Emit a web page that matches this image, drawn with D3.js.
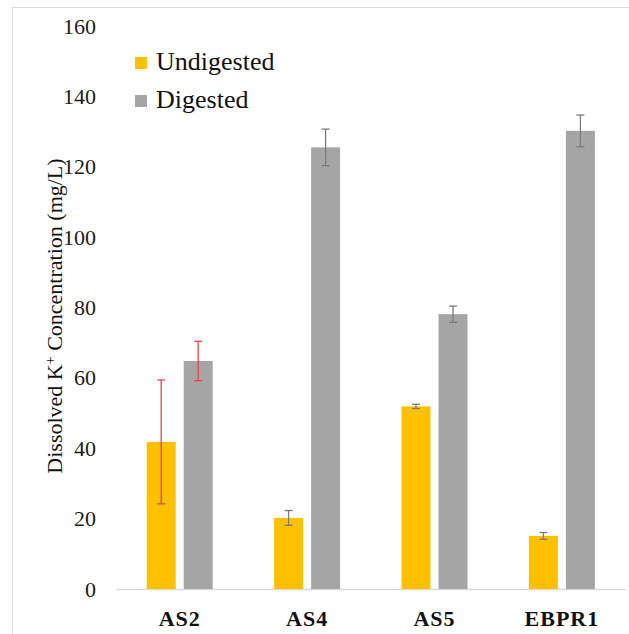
<!DOCTYPE html>
<html>
<head>
<meta charset="utf-8">
<script src="https://cdn.jsdelivr.net/npm/d3@7"></script>
<style>
  html, body { margin: 0; padding: 0; background: #fff; }
  svg { display: block; }
  svg text { font-family: 'Liberation Serif', 'Times New Roman', Times, 'DejaVu Serif', serif; }
</style>
</head>
<body>
<svg id="chart" width="629" height="634"></svg>
<script>
// Dissolved K+ concentration per sludge sample, before and after digestion
const categories = ["AS2", "AS4", "AS5", "EBPR1"];
const seriesNames = ["Undigested", "Digested"];
const undigested = [41.8, 20.2, 51.9, 15.1];
const undigestedErr = [17.6, 2.1, 0.6, 0.95];
const digested = [64.8, 125.5, 78.1, 130.2];
const digestedErr = [5.6, 5.2, 2.3, 4.5];
const yTicks = [0, 20, 40, 60, 80, 100, 120, 140, 160];

const colors = { Undigested: "#FFC000", Digested: "#A5A5A5" };
// AS2 error bars are drawn in red, the rest in dark gray
const errColors = [["#e8424c", "#e8424c"], ["#7a7a7a", "#7a7a7a"], ["#7a7a7a", "#7a7a7a"], ["#7a7a7a", "#7a7a7a"]];

const serif = "'Liberation Serif', 'Times New Roman', Times, serif";
const svg = d3.select("#chart");

// chart area frame (left and top edges show)
svg.append("rect")
  .attr("x", 12.5).attr("y", 7.5)
  .attr("width", 640).attr("height", 640)
  .attr("fill", "none").attr("stroke", "#d9d9d9").attr("stroke-width", 1);

const x0 = d3.scaleBand().domain(categories).range([116, 625.6]).padding(0);
const x1 = d3.scaleBand().domain(seriesNames).range([-33, 33]).paddingInner(8 / 37).paddingOuter(0);
const y = d3.scaleLinear().domain([0, 160]).range([589, 26]);

// y tick labels (no axis line, no tick marks)
const yAxis = svg.append("g")
  .attr("transform", "translate(96,0)")
  .call(d3.axisLeft(y).tickValues(yTicks).tickSize(0).tickPadding(0));
yAxis.attr("font-family", serif);
yAxis.select(".domain").remove();
yAxis.selectAll("text")
  .attr("font-size", 22).attr("fill", "#1a1a1a");

// category axis
const xAxis = svg.append("g")
  .attr("transform", "translate(0,589)")
  .call(d3.axisBottom(x0).tickSize(0).tickPadding(0));
xAxis.attr("font-family", serif);
xAxis.select(".domain").attr("stroke", "#d9d9d9").attr("stroke-width", 1.5);
xAxis.selectAll("text")
  .attr("y", 37).attr("dy", 0)
  .attr("font-size", 22).attr("font-weight", "bold")
  .attr("letter-spacing", 1).attr("fill", "#111");

// bars
const rows = categories.map((c, i) => ({
  cat: c, i,
  vals: [
    { s: "Undigested", v: undigested[i], e: undigestedErr[i] },
    { s: "Digested", v: digested[i], e: digestedErr[i] }
  ]
}));

const groups = svg.append("g").selectAll("g")
  .data(rows).join("g")
  .attr("transform", d => `translate(${x0(d.cat) + x0.bandwidth() / 2},0)`);

groups.selectAll("rect")
  .data(d => d.vals).join("rect")
  .attr("x", d => x1(d.s))
  .attr("width", x1.bandwidth())
  .attr("y", d => y(d.v))
  .attr("height", d => y(0) - y(d.v))
  .attr("fill", d => colors[d.s]);

// error bars
groups.each(function (row) {
  const g = d3.select(this);
  row.vals.forEach((d, k) => {
    const cx = x1(d.s) + x1.bandwidth() / 2;
    const col = errColors[row.i][k];
    const eg = g.append("g").attr("stroke", col).attr("stroke-width", 1.3);
    eg.append("line").attr("x1", cx).attr("x2", cx).attr("y1", y(d.v + d.e)).attr("y2", y(d.v - d.e));
    eg.append("line").attr("x1", cx - 4).attr("x2", cx + 4).attr("y1", y(d.v + d.e)).attr("y2", y(d.v + d.e));
    eg.append("line").attr("x1", cx - 4).attr("x2", cx + 4).attr("y1", y(d.v - d.e)).attr("y2", y(d.v - d.e));
  });
});

// y-axis title
const title = svg.append("text")
  .attr("transform", "translate(62,316) rotate(-90)")
  .attr("text-anchor", "middle")
  .attr("font-family", serif)
  .attr("font-size", 22).attr("fill", "#111");
title.append("tspan").text("Dissolved K");
title.append("tspan").attr("baseline-shift", "super").attr("font-size", 14).text("+");
title.append("tspan").text(" Concentration (mg/L)");

// legend
const legend = svg.append("g").attr("font-family", serif);
seriesNames.forEach((s, i) => {
  const ly = 70 + i * 38;
  legend.append("rect")
    .attr("x", 135).attr("y", ly - 13).attr("width", 12).attr("height", 12)
    .attr("fill", colors[s]);
  legend.append("text")
    .attr("x", 156).attr("y", ly)
    .attr("font-size", 26).attr("fill", "#111")
    .text(s);
});
</script>
</body>
</html>
